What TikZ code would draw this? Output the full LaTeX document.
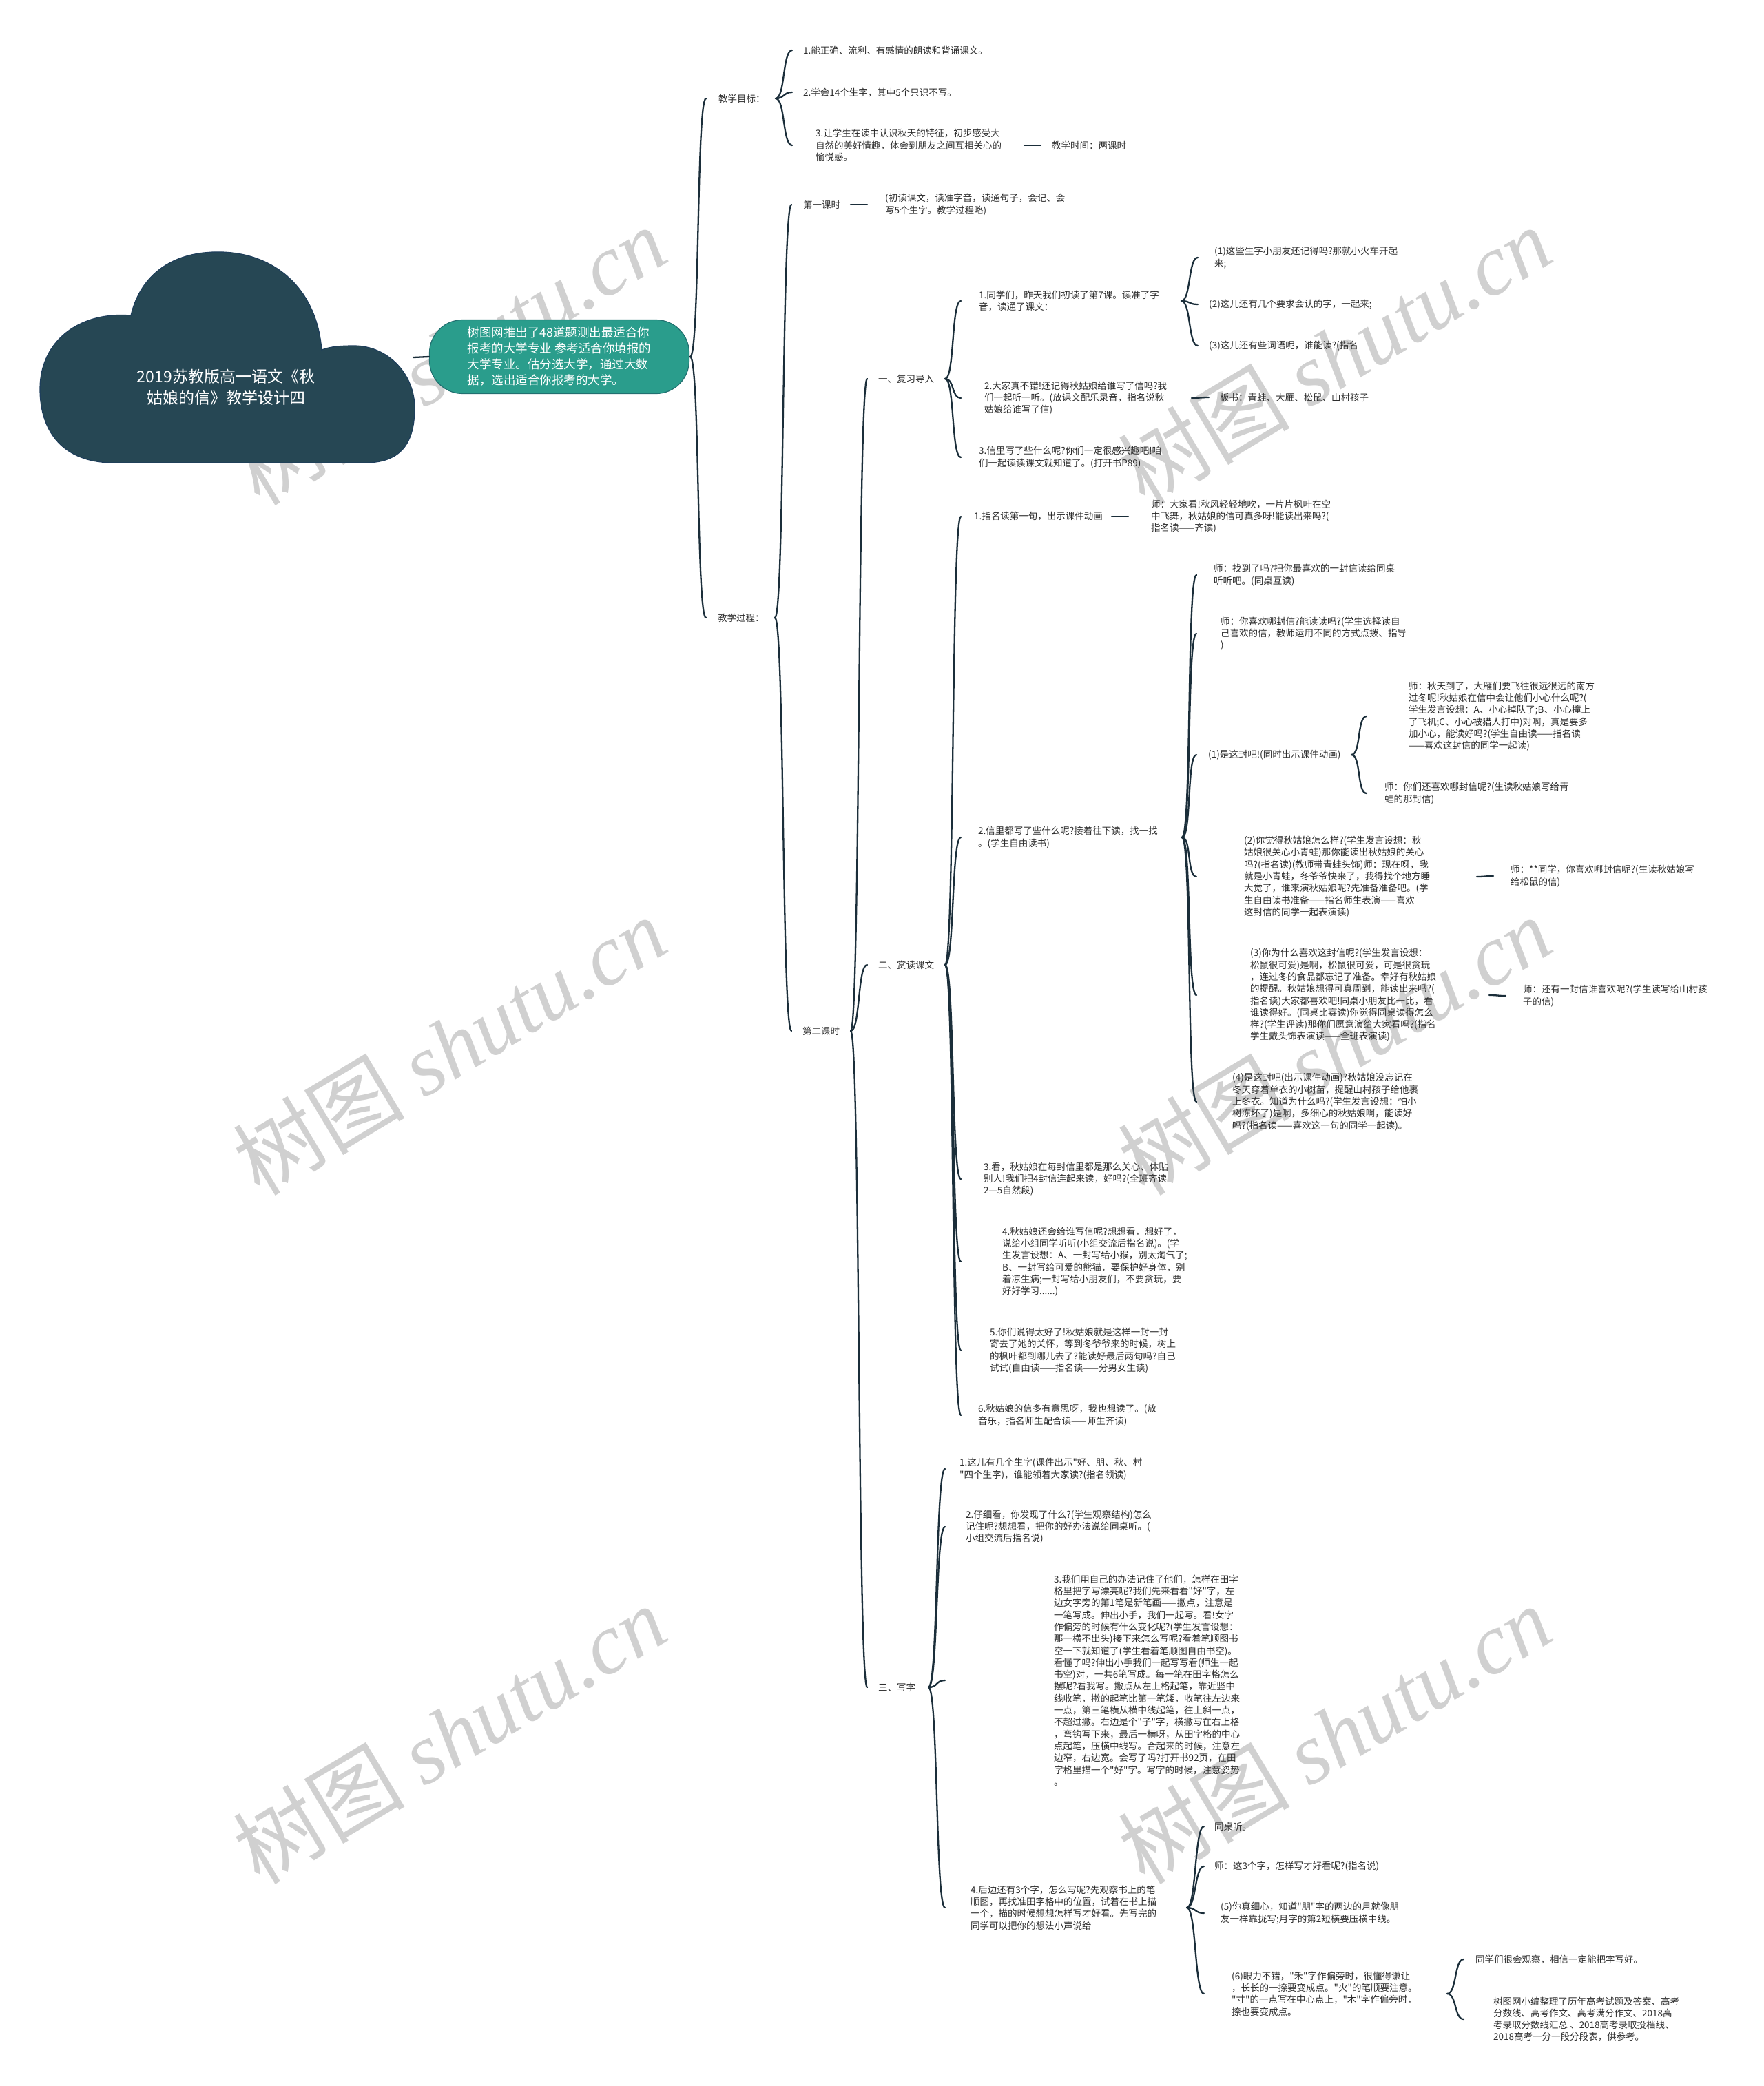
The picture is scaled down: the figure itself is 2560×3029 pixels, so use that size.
\documentclass[tikz,border=0pt]{standalone}
\usepackage{fontspec}
\setmainfont{Noto Sans CJK SC}[Ligatures=TeXOff]
\newfontfamily\wmfont{Liberation Serif}
\definecolor{cloudc}{RGB}{38,71,84}
\definecolor{cloudd}{RGB}{30,62,92}
\definecolor{hintc}{RGB}{42,157,140}
\definecolor{hintd}{RGB}{34,112,112}
\definecolor{linec}{RGB}{27,46,58}
\definecolor{textc}{RGB}{45,45,45}
\definecolor{wmc}{RGB}{208,208,208}
\tikzset{
  link/.style={draw=linec, line width=2.3pt, line cap=round},
  txt/.style={anchor=west, inner sep=0pt, align=left, text=textc,
    font=\fontsize{13.5}{17.3}\selectfont},
  title/.style={align=center, text=white, font=\fontsize{23}{31}\selectfont},
  cloudbody/.style={fill=cloudc, draw=cloudd, line width=1.2pt},
  hintbox/.style={fill=hintc, draw=hintd, line width=1.2pt, rounded corners=48pt,
    minimum width=377pt, minimum height=107pt, inner sep=0pt, align=left,
    text=white, font=\fontsize{17.5}{23}\selectfont},
  wmark/.style={text=wmc, rotate=31, inner sep=0pt, font=\fontsize{125}{125}\selectfont},
}
% cusp and end column of one fork
\newcommand\branchpt[3]{%
  \path (#2,0) coordinate (#1-cx) (#3,0) coordinate (#1-e);
  \coordinate (#1-c) at (#1.east -| #1-cx);}
\newcommand\twig[2]{\draw[link] (#1-c) .. controls +(14,0) and +(-14,0) .. (#2.west -| #1-e);}

\begin{document}
\begin{tikzpicture}[x=1pt,y=-1pt]
\useasboundingbox (0,0) rectangle (2560,3029);

% watermarks
\foreach \wx/\wy [count=\k] in {652/516,1937/516,652/1518,1937/1518,652/2518,1937/2518}
  \node[wmark] (wm\k) at (\wx,\wy) {树图 {\wmfont\itshape shutu.cn}};

% root cloud
\path[cloudbody] (165,672) .. controls (90,672) and (58,625) .. (58,565)
  .. controls (58,495) and (115,452) .. (190,458)
  .. controls (205,395) and (255,364) .. (322,366)
  .. controls (400,368) and (460,420) .. (467,508)
  .. controls (480,503) and (495,502) .. (514,502)
  .. controls (563,502) and (602,543) .. (602,592)
  .. controls (602,640) and (585,672) .. (530,672) -- cycle;
\node[title] (root) at (328,562) {2019苏教版高一语文《秋\\姑娘的信》教学设计四};
\coordinate (root-r) at (600,519);

\node[hintbox] (hint) at (812,518) {树图网推出了48道题测出最适合你\\报考的大学专业 参考适合你填报的\\大学专业。估分选大学，通过大数\\据，选出适合你报考的大学。};
\draw[link] (root-r) -- (hint.west);

% level 1
\node[txt] (goal) at (1043,143) {教学目标：};
\node[txt] (proc) at (1042,897) {教学过程：};

% 教学目标
\node[txt] (g1) at (1166,73) {1.能正确、流利、有感情的朗读和背诵课文。};
\node[txt] (g2) at (1166,134) {2.学会14个生字，其中5个只识不写。};
\node[txt] (g3) at (1184,211) {3.让学生在读中认识秋天的特征，初步感受大\\自然的美好情趣，体会到朋友之间互相关心的\\愉悦感。};
\node[txt] (time) at (1527,211) {教学时间：两课时};

% 教学过程
\node[txt] (l1) at (1166,297) {第一课时};
\node[txt] (l1a) at (1285,297) {(初读课文，读准字音，读通句子，会记、会\\写5个生字。教学过程略)};
\node[txt] (l2) at (1165,1497) {第二课时};

% 一、复习导入
\node[txt] (rev) at (1275,550) {一、复习导入};
\node[txt] (r1) at (1421,437) {1.同学们，昨天我们初读了第7课。读准了字\\音，读通了课文：};
\node[txt] (r1a) at (1763,374) {(1)这些生字小朋友还记得吗?那就小火车开起\\来;};
\node[txt] (r1b) at (1755,442) {(2)这儿还有几个要求会认的字，一起来;};
\node[txt] (r1c) at (1755,502) {(3)这儿还有些词语呢，谁能读?(指名};
\node[txt] (r2) at (1429,578) {2.大家真不错!还记得秋姑娘给谁写了信吗?我\\们一起听一听。(放课文配乐录音，指名说秋\\姑娘给谁写了信)};
\node[txt] (r2a) at (1771,577) {板书：青蛙、大雁、松鼠、山村孩子};
\node[txt] (r3) at (1421,664) {3.信里写了些什么呢?你们一定很感兴趣吧!咱\\们一起读读课文就知道了。(打开书P89)};

% 二、赏读课文
\node[txt] (read) at (1275,1401) {二、赏读课文};
\node[txt] (d1) at (1414,750) {1.指名读第一句，出示课件动画};
\node[txt] (d1a) at (1671,750) {师：大家看!秋风轻轻地吹，一片片枫叶在空\\中飞舞，秋姑娘的信可真多呀!能读出来吗?(\\指名读——齐读)};
\node[txt] (d2) at (1420,1216) {2.信里都写了些什么呢?接着往下读，找一找\\。(学生自由读书)};
\node[txt] (d2a) at (1762,835) {师：找到了吗?把你最喜欢的一封信读给同桌\\听听吧。(同桌互读)};
\node[txt] (d2b) at (1772,920) {师：你喜欢哪封信?能读读吗?(学生选择读自\\己喜欢的信，教师运用不同的方式点拨、指导\\)};
\node[txt] (d2c) at (1754,1096) {(1)是这封吧!(同时出示课件动画)};
\node[txt] (d2c1) at (2045,1040) {师：秋天到了，大雁们要飞往很远很远的南方\\过冬呢!秋姑娘在信中会让他们小心什么呢?(\\学生发言设想：A、小心掉队了;B、小心撞上\\了飞机;C、小心被猎人打中)对啊，真是要多\\加小心，能读好吗?(学生自由读——指名读\\——喜欢这封信的同学一起读)};
\node[txt] (d2c2) at (2010,1152) {师：你们还喜欢哪封信呢?(生读秋姑娘写给青\\蛙的那封信)};
\node[txt] (d2d) at (1806,1273) {(2)你觉得秋姑娘怎么样?(学生发言设想：秋\\姑娘很关心小青蛙)那你能读出秋姑娘的关心\\吗?(指名读)(教师带青蛙头饰)师：现在呀，我\\就是小青蛙，冬爷爷快来了，我得找个地方睡\\大觉了，谁来演秋姑娘呢?先准备准备吧。(学\\生自由读书准备——指名师生表演——喜欢\\这封信的同学一起表演读)};
\node[txt] (d2d1) at (2193,1272) {师：**同学，你喜欢哪封信呢?(生读秋姑娘写\\给松鼠的信)};
\node[txt] (d2e) at (1815,1445) {(3)你为什么喜欢这封信呢?(学生发言设想：\\松鼠很可爱)是啊，松鼠很可爱，可是很贪玩\\，连过冬的食品都忘记了准备。幸好有秋姑娘\\的提醒。秋姑娘想得可真周到，能读出来吗?(\\指名读)大家都喜欢吧!同桌小朋友比一比，看\\谁读得好。(同桌比赛读)你觉得同桌读得怎么\\样?(学生评读)那你们愿意演给大家看吗?(指名\\学生戴头饰表演读——全班表演读)};
\node[txt] (d2e1) at (2211,1446) {师：还有一封信谁喜欢呢?(学生读写给山村孩\\子的信)};
\node[txt] (d2f) at (1789,1600) {(4)是这封吧(出示课件动画)?秋姑娘没忘记在\\冬天穿着单衣的小树苗，提醒山村孩子给他裹\\上冬衣。知道为什么吗?(学生发言设想：怕小\\树冻坏了)是啊，多细心的秋姑娘啊，能读好\\吗?(指名读——喜欢这一句的同学一起读)。};
\node[txt] (d3) at (1428,1712) {3.看，秋姑娘在每封信里都是那么关心、体贴\\别人!我们把4封信连起来读，好吗?(全班齐读\\2—5自然段)};
\node[txt] (d4) at (1455,1832) {4.秋姑娘还会给谁写信呢?想想看，想好了，\\说给小组同学听听(小组交流后指名说)。(学\\生发言设想：A、一封写给小猴，别太淘气了;\\B、一封写给可爱的熊猫，要保护好身体，别\\着凉生病;一封写给小朋友们，不要贪玩，要\\好好学习......)};
\node[txt] (d5) at (1437,1961) {5.你们说得太好了!秋姑娘就是这样一封一封\\寄去了她的关怀，等到冬爷爷来的时候，树上\\的枫叶都到哪儿去了?能读好最后两句吗?自己\\试试(自由读——指名读——分男女生读)};
\node[txt] (d6) at (1420,2055) {6.秋姑娘的信多有意思呀，我也想读了。(放\\音乐，指名师生配合读——师生齐读)};

% 三、写字
\node[txt] (write) at (1275,2450) {三、写字};
\node[txt] (w1) at (1393,2133) {1.这儿有几个生字(课件出示"好、朋、秋、村\\"四个生字)，谁能领着大家读?(指名领读)};
\node[txt] (w2) at (1402,2217) {2.仔细看，你发现了什么?(学生观察结构)怎么\\记住呢?想想看，把你的好办法说给同桌听。(\\小组交流后指名说)};
\node[txt] (w3) at (1530,2440) {3.我们用自己的办法记住了他们，怎样在田字\\格里把字写漂亮呢?我们先来看看"好"字，左\\边女字旁的第1笔是新笔画——撇点，注意是\\一笔写成。伸出小手，我们一起写。看!女字\\作偏旁的时候有什么变化呢?(学生发言设想：\\那一横不出头)接下来怎么写呢?看着笔顺图书\\空一下就知道了(学生看着笔顺图自由书空)。\\看懂了吗?伸出小手我们一起写写看(师生一起\\书空)对，一共6笔写成。每一笔在田字格怎么\\摆呢?看我写。撇点从左上格起笔，靠近竖中\\线收笔，撇的起笔比第一笔矮，收笔往左边来\\一点，第三笔横从横中线起笔，往上斜一点，\\不超过撇。右边是个"子"字，横撇写在右上格\\，弯钩写下来，最后一横呀，从田字格的中心\\点起笔，压横中线写。合起来的时候，注意左\\边窄，右边宽。会写了吗?打开书92页，在田\\字格里描一个"好"字。写字的时候，注意姿势\\。};
\node[txt] (w4) at (1409,2770) {4.后边还有3个字，怎么写呢?先观察书上的笔\\顺图，再找准田字格中的位置，试着在书上描\\一个，描的时候想想怎样写才好看。先写完的\\同学可以把你的想法小声说给};
\node[txt] (w4a) at (1763,2652) {同桌听。};
\node[txt] (w4b) at (1763,2710) {师：这3个字，怎样写才好看呢?(指名说)};
\node[txt] (w4c) at (1772,2778) {(5)你真细心，知道"朋"字的两边的月就像朋\\友一样靠拢写;月字的第2短横要压横中线。};
\node[txt] (w4d) at (1788,2895) {(6)眼力不错，"禾"字作偏旁时，很懂得谦让\\，长长的一捺要变成点。"火"的笔顺要注意。\\"寸"的一点写在中心点上，"木"字作偏旁时，\\捺也要变成点。};
\node[txt] (w4d1) at (2142,2845) {同学们很会观察，相信一定能把字写好。};
\node[txt] (w4d2) at (2168,2932) {树图网小编整理了历年高考试题及答案、高考\\分数线、高考作文、高考满分作文、2018高\\考录取分数线汇总 、2018高考录取投档线、\\2018高考一分一段分段表，供参考。};

% forks
\branchpt{hint}{1002}{1025}
\branchpt{goal}{1126}{1150}
\branchpt{g3}{1487}{1511}
\branchpt{proc}{1125}{1149}
\branchpt{l1}{1235}{1259}
\branchpt{l2}{1235}{1259}
\branchpt{rev}{1372}{1395}
\branchpt{r1}{1715}{1739}
\branchpt{r2}{1730}{1755}
\branchpt{read}{1372}{1395}
\branchpt{d1}{1614}{1638}
\branchpt{d2}{1716}{1737}
\branchpt{d2c}{1962}{1984}
\branchpt{d2d}{2144}{2168}
\branchpt{d2e}{2162}{2186}
\branchpt{write}{1348}{1372}
\branchpt{w4}{1723}{1748}
\branchpt{w4d}{2101}{2125}

\foreach \c in {goal,proc} \twig{hint}{\c};
\foreach \c in {g1,g2,g3} \twig{goal}{\c};
\twig{g3}{time}
\foreach \c in {l1,l2} \twig{proc}{\c};
\twig{l1}{l1a}
\foreach \c in {rev,read,write} \twig{l2}{\c};
\foreach \c in {r1,r2,r3} \twig{rev}{\c};
\foreach \c in {r1a,r1b,r1c} \twig{r1}{\c};
\twig{r2}{r2a}
\foreach \c in {d1,d2,d3,d4,d5,d6} \twig{read}{\c};
\twig{d1}{d1a}
\foreach \c in {d2a,d2b,d2c,d2d,d2e,d2f} \twig{d2}{\c};
\foreach \c in {d2c1,d2c2} \twig{d2c}{\c};
\twig{d2d}{d2d1}
\twig{d2e}{d2e1}
\foreach \c in {w1,w2,w3,w4} \twig{write}{\c};
\foreach \c in {w4a,w4b,w4c,w4d} \twig{w4}{\c};
\foreach \c in {w4d1,w4d2} \twig{w4d}{\c};
\end{tikzpicture}
\end{document}
